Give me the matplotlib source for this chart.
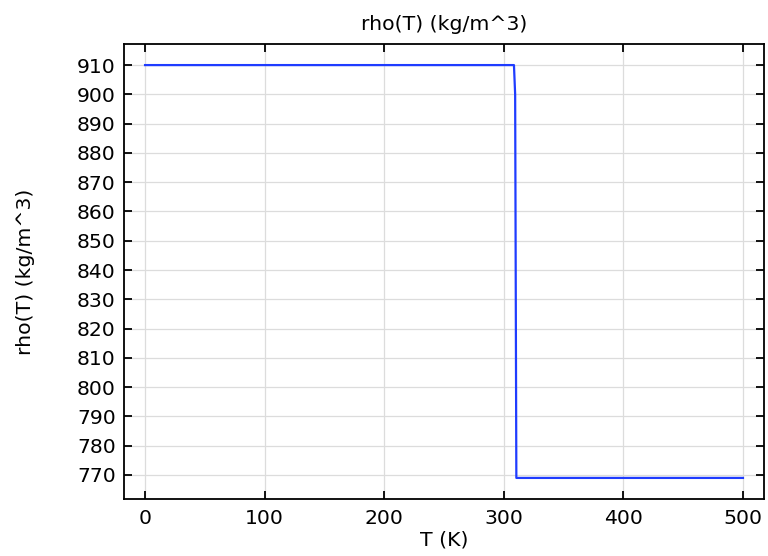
import matplotlib
matplotlib.use("Agg")
import matplotlib.pyplot as plt

# density vs temperature (melting step near 310 K)
T = [0, 308.5, 309.5, 310.5, 500]
rho = [910, 910, 900, 769, 769]

xticks = [0, 100, 200, 300, 400, 500]
yticks = list(range(770, 911, 10))

fig = plt.figure(figsize=(7.68, 5.56), dpi=100)
ax = fig.add_axes([124/768, 1 - 499/556, 640/768, 455/556])

ax.plot(T, rho, color="#1f3cff", linewidth=1.6)

ax.set_xlim(-17.6, 517.6)
ax.set_ylim(761.8, 917.2)
ax.set_xticks(xticks)
ax.set_yticks(yticks)
ax.grid(True, color="#dcdcdc", linewidth=0.9)
ax.set_axisbelow(True)

ax.tick_params(direction="in", length=6, width=1.3, top=True, right=True,
               labelsize=14.7, pad=6)
ax.tick_params(axis="x", pad=7)
for s in ax.spines.values():
    s.set_linewidth(1.3)

ax.set_title("rho(T) (kg/m^3)", fontsize=14.7, pad=10)
ax.set_xlabel("T (K)", fontsize=14.7, labelpad=2)
ax.set_ylabel("rho(T) (kg/m^3)", fontsize=14.7, labelpad=30)

fig.savefig("out.png", dpi=100)
